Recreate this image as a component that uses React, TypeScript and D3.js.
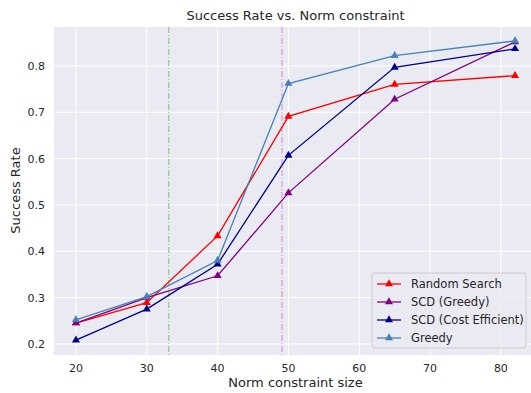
import * as d3 from "d3"
import { useEffect, useRef } from "react"

const normSizes = [20, 30, 40, 50, 65, 82]
const seriesNames = ["Random Search", "SCD (Greedy)", "SCD (Cost Efficient)", "Greedy"]
const seriesColors = ["#ff0000", "#800080", "#00008b", "#4682b4"]
const randomSearch = [0.245, 0.289, 0.433, 0.691, 0.760, 0.779]
const scdGreedy = [0.245, 0.300, 0.347, 0.526, 0.728, 0.852]
const scdCostEfficient = [0.208, 0.275, 0.372, 0.607, 0.797, 0.837]
const greedy = [0.252, 0.302, 0.380, 0.762, 0.822, 0.854]
const xTicks = [20, 30, 40, 50, 60, 70, 80]
const yTicks = [0.2, 0.3, 0.4, 0.5, 0.6, 0.7, 0.8]
const markerLines = [
  { x: 33.1, color: "#9cc89c" },
  { x: 49.1, color: "#d8a0d8" },
]

const W = 531
const H = 393

const App = () => {
  const svgRef = useRef<SVGSVGElement | null>(null)

  useEffect(() => {
    if (!svgRef.current) return
    d3.select(svgRef.current).selectAll("*").remove()

    const margin = { top: 27, right: -6, bottom: 38, left: 54 }
    const width = W - margin.left - margin.right
    const height = H - margin.top - margin.bottom
    const font = "DejaVu Sans, sans-serif"

    const svg = d3
      .select(svgRef.current)
      .append("g")
      .attr("transform", `translate(${margin.left},${margin.top})`)

    const x = d3.scaleLinear().domain([16.9, 85.1]).range([0, width])
    const y = d3.scaleLinear().domain([0.176, 0.884]).range([height, 0])

    // background
    svg.append("rect").attr("width", width).attr("height", height).attr("fill", "#eaeaf2")

    // grid
    svg
      .selectAll(".gx")
      .data(xTicks)
      .enter()
      .append("line")
      .attr("x1", d => x(d))
      .attr("x2", d => x(d))
      .attr("y1", 0)
      .attr("y2", height)
      .attr("stroke", "#fff")
      .attr("stroke-width", 1)
    svg
      .selectAll(".gy")
      .data(yTicks)
      .enter()
      .append("line")
      .attr("x1", 0)
      .attr("x2", width)
      .attr("y1", d => y(d))
      .attr("y2", d => y(d))
      .attr("stroke", "#fff")
      .attr("stroke-width", 1)

    // vertical dash-dot lines
    svg
      .selectAll(".vl")
      .data(markerLines)
      .enter()
      .append("line")
      .attr("x1", d => x(d.x))
      .attr("x2", d => x(d.x))
      .attr("y1", 0)
      .attr("y2", height)
      .attr("stroke", d => d.color)
      .attr("stroke-width", 1.3)
      .attr("stroke-dasharray", "6,2,1,2")

    // tick labels
    svg
      .selectAll(".tx")
      .data(xTicks)
      .enter()
      .append("text")
      .attr("x", d => x(d))
      .attr("y", height + 17)
      .attr("text-anchor", "middle")
      .style("font-family", font)
      .style("font-size", "11px")
      .attr("fill", "#262626")
      .text(d => d)
    svg
      .selectAll(".ty")
      .data(yTicks)
      .enter()
      .append("text")
      .attr("x", -9)
      .attr("y", d => y(d) + 4)
      .attr("text-anchor", "end")
      .style("font-family", font)
      .style("font-size", "11px")
      .attr("fill", "#262626")
      .text(d => d.toFixed(1))

    // title & axis labels
    svg
      .append("text")
      .attr("x", 241.5)
      .attr("y", -7)
      .attr("text-anchor", "middle")
      .style("font-family", font)
      .style("font-size", "13px")
      .attr("fill", "#262626")
      .text("Success Rate vs. Norm constraint")
    svg
      .append("text")
      .attr("x", 241.5)
      .attr("y", height + 32)
      .attr("text-anchor", "middle")
      .style("font-family", font)
      .style("font-size", "13px")
      .attr("fill", "#262626")
      .text("Norm constraint size")
    svg
      .append("text")
      .attr("transform", "rotate(-90)")
      .attr("x", -163.5)
      .attr("y", -34)
      .attr("text-anchor", "middle")
      .style("font-family", font)
      .style("font-size", "13px")
      .attr("fill", "#262626")
      .text("Success Rate")

    const allSeries = [randomSearch, scdGreedy, scdCostEfficient, greedy]
    const line = d3
      .line<number>()
      .x((_, i) => x(normSizes[i]))
      .y(d => y(d))
    const tri = d3.symbol().type(d3.symbolTriangle).size(28)

    allSeries.forEach((vals, s) => {
      svg
        .append("path")
        .datum(vals)
        .attr("d", line)
        .attr("fill", "none")
        .attr("stroke", seriesColors[s])
        .attr("stroke-width", 1.3)
      svg
        .selectAll(`.m${s}`)
        .data(vals)
        .enter()
        .append("path")
        .attr("d", tri)
        .attr("transform", (d, i) => `translate(${x(normSizes[i])},${y(d)})`)
        .attr("fill", seriesColors[s])
    })

    // legend
    const lg = svg.append("g").attr("transform", `translate(${372 - margin.left},${273 - margin.top})`)
    lg.append("rect")
      .attr("width", 154)
      .attr("height", 75)
      .attr("rx", 3)
      .attr("fill", "#eaeaf2")
      .attr("fill-opacity", 0.8)
      .attr("stroke", "#cccccc")
    seriesNames.forEach((name, i) => {
      const cy = 11 + i * 18
      lg.append("line")
        .attr("x1", 5)
        .attr("x2", 29)
        .attr("y1", cy)
        .attr("y2", cy)
        .attr("stroke", seriesColors[i])
        .attr("stroke-width", 1.3)
      lg.append("path")
        .attr("d", tri)
        .attr("transform", `translate(17,${cy})`)
        .attr("fill", seriesColors[i])
      lg.append("text")
        .attr("x", 39)
        .attr("y", cy + 4)
        .style("font-family", font)
        .style("font-size", "11.5px")
        .attr("fill", "#262626")
        .text(name)
    })
  }, [])

  return (
    <svg
      ref={svgRef}
      width={W}
      height={H}
      style={{ position: "absolute", left: 0, top: 0, background: "#fff" }}
    />
  )
}

export default App
